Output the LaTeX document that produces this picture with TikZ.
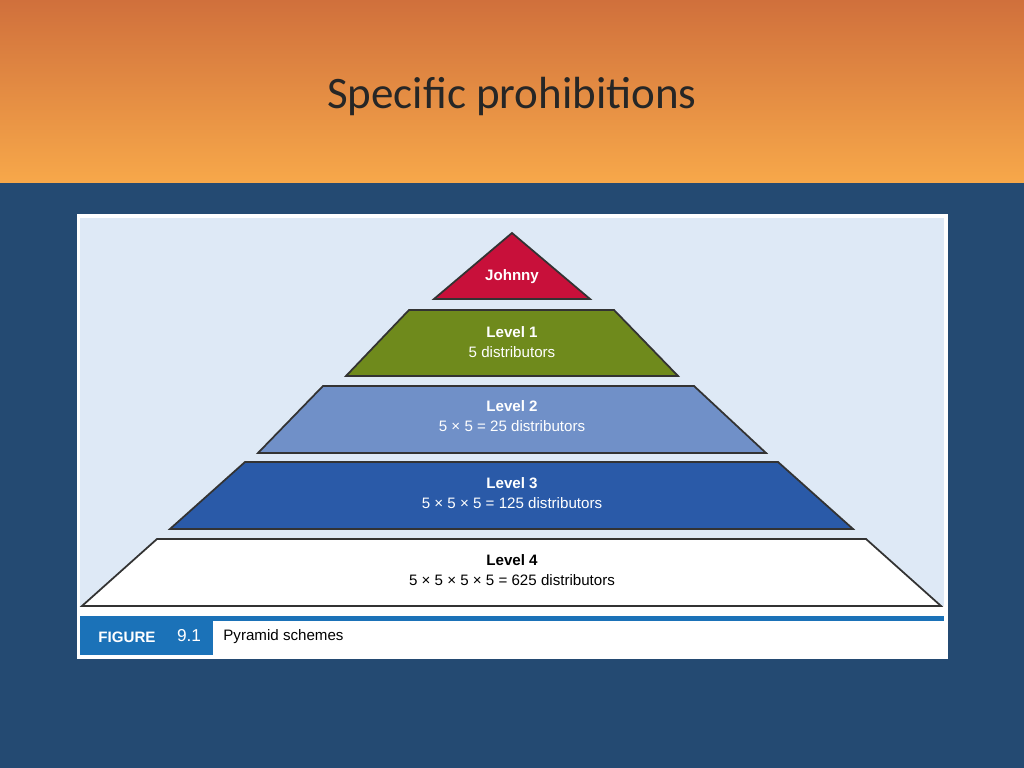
\documentclass[tikz,border=0pt]{standalone}
\usepackage{fontspec}
\setmainfont{Liberation Sans}
\newfontfamily\titlefont{Carlito}
\usetikzlibrary{positioning}
\definecolor{headtop}{HTML}{D0703C}
\definecolor{headbot}{HTML}{F7A84A}
\definecolor{slidebg}{HTML}{244A72}
\definecolor{panelbg}{HTML}{DEE9F6}
\definecolor{figblue}{HTML}{1B72B8}
\definecolor{johnnyred}{HTML}{C8103A}
\definecolor{levelone}{HTML}{6F8A1C}
\definecolor{leveltwo}{HTML}{7090C8}
\definecolor{levelthree}{HTML}{2A5AA8}
\begin{document}
\begin{tikzpicture}[x=0.01cm,y=-0.01cm,thick,
  tier/.style={draw=black!80,line width=0.5pt},
  tiertext/.style={font=\fontsize{4.3}{5.6}\selectfont,align=center,inner sep=0pt}]

            \useasboundingbox (0,0) rectangle (1024,768);
            \fill[slidebg] (0,183) rectangle (1024,768);
            \shade[top color=headtop,bottom color=headbot] (0,0) rectangle (1024,183);
            \node[font=\titlefont\fontsize{12.8}{14}\selectfont,text=black!85] (title) at (512,97) {Specific prohibitions};

            % figure panel
            \fill[white] (77,214) rectangle (948,659);
            \fill[panelbg] (80,218) rectangle (944,606);
            \fill[figblue] (80,616) rectangle (944,621);
            \fill[figblue] (80,621) rectangle (213,655);
            \node[text=white,font=\bfseries\fontsize{4.3}{5}\selectfont] (figword) at (127,637) {FIGURE};
            \node[text=white,font=\fontsize{4.9}{6}\selectfont] (fignum) at (189,636) {9.1};
            \node[anchor=west,inner sep=0pt,font=\fontsize{4.3}{5}\selectfont] (caption) at (222,637) {Pyramid schemes};

            % pyramid
            \draw[tier,fill=johnnyred] (512,233) -- (590,299) -- (434,299) -- cycle;
            \draw[tier,fill=levelone] (409,310) -- (614,310) -- (678,376) -- (346,376) -- cycle;
            \draw[tier,fill=leveltwo] (323,386) -- (694,386) -- (766,453) -- (258,453) -- cycle;
            \draw[tier,fill=levelthree] (245,462) -- (778,462) -- (853,529) -- (170,529) -- cycle;
            \draw[tier,fill=white] (157,539) -- (866,539) -- (941,606) -- (82,606) -- cycle;

            \node[tiertext,text=white,font=\bfseries\fontsize{4.3}{5}\selectfont] (johnny) at (512,277) {Johnny};
            \node[tiertext,text=white] (lvl1) at (512,342) {\textbf{Level 1}\\5 distributors};
            \node[tiertext,text=white] (lvl2) at (512,416) {\textbf{Level 2}\\5 × 5 = 25 distributors};
            \node[tiertext,text=white] (lvl3) at (512,493) {\textbf{Level 3}\\5 × 5 × 5 = 125 distributors};
            \node[tiertext,text=black] (lvl4) at (512,570) {\textbf{Level 4}\\5 × 5 × 5 × 5 = 625 distributors};

        \end{tikzpicture}
\end{document}
